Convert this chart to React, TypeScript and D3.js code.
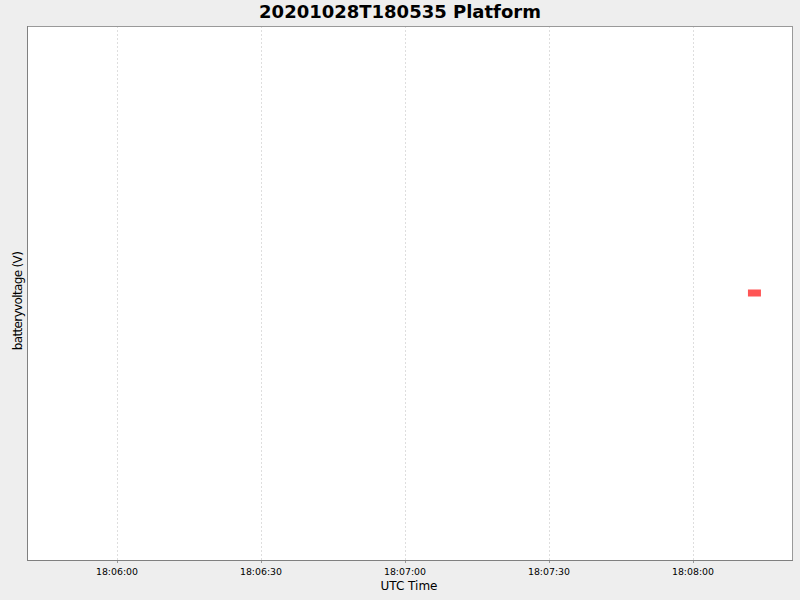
import React from "react";
import * as d3 from "d3";

const title = "20201028T180535 Platform";
const xLabel = "UTC Time";
const yLabel = "batteryvoltage (V)";
const times = ["2020-10-28T18:08:12.800Z"];
const voltages = [12.6];
const xDomain = ["2020-10-28T18:05:41.250Z", "2020-10-28T18:08:20.625Z"];
const yDomain = [12.1, 13.1];
const tickTimes = [
  "2020-10-28T18:06:00Z",
  "2020-10-28T18:06:30Z",
  "2020-10-28T18:07:00Z",
  "2020-10-28T18:07:30Z",
  "2020-10-28T18:08:00Z",
];

const W = 800;
const H = 600;
const L = 27;
const R = 792;
const T = 26;
const B = 560;

export default function App() {
  const x = d3
    .scaleUtc()
    .domain(xDomain.map((d) => new Date(d)))
    .range([L, R]);
  const y = d3.scaleLinear().domain(yDomain).range([B, T]);
  const fmt = d3.utcFormat("%H:%M:%S");
  const ticks = tickTimes.map((d) => new Date(d));
  const blockW = 13;
  const blockH = 7;
  return (
    <svg
      width={W}
      height={H}
      style={{ position: "absolute", left: 0, top: 0, fontFamily: "DejaVu Sans" }}
    >
      <rect x={0} y={0} width={W} height={H} fill="#eeeeee" />
      <rect x={L} y={T} width={R - L} height={B - T} fill="#ffffff" />
      {ticks.map((t, i) => (
        <g key={i}>
          <line
            x1={Math.round(x(t)) + 0.5}
            x2={Math.round(x(t)) + 0.5}
            y1={T}
            y2={B}
            stroke="#dedede"
            strokeDasharray="2,2"
          />
          <line
            x1={Math.round(x(t)) + 0.5}
            x2={Math.round(x(t)) + 0.5}
            y1={B}
            y2={B + 3}
            stroke="#999999"
          />
          <text
            x={x(t)}
            y={575}
            fontSize={9.4}
            textAnchor="middle"
            fill="#000"
          >
            {fmt(t)}
          </text>
        </g>
      ))}
      {times.map((t, i) => (
        <rect
          key={i}
          x={x(new Date(t)) - blockW / 2}
          y={y(voltages[i]) - blockH / 2}
          width={blockW}
          height={blockH}
          fill="#ff5555"
        />
      ))}
      <rect
        x={L + 0.5}
        y={T + 0.5}
        width={R - L}
        height={B - T}
        fill="none"
        stroke="#999999"
      />
      <line x1={L + 0.5} x2={L + 0.5} y1={T} y2={B + 1} stroke="#808080" />
      <line x1={L} x2={R + 1} y1={B + 0.5} y2={B + 0.5} stroke="#808080" />
      <text
        x={400}
        y={18}
        fontSize={18}
        fontWeight="bold"
        textAnchor="middle"
        fill="#000"
      >
        {title}
      </text>
      <text x={409} y={590} fontSize={12} textAnchor="middle" fill="#000">
        {xLabel}
      </text>
      <text
        transform={`translate(22,301) rotate(-90)`}
        fontSize={12}
        textAnchor="middle"
        fill="#000"
        letterSpacing={-0.65}
      >
        {yLabel}
      </text>
    </svg>
  );
}
